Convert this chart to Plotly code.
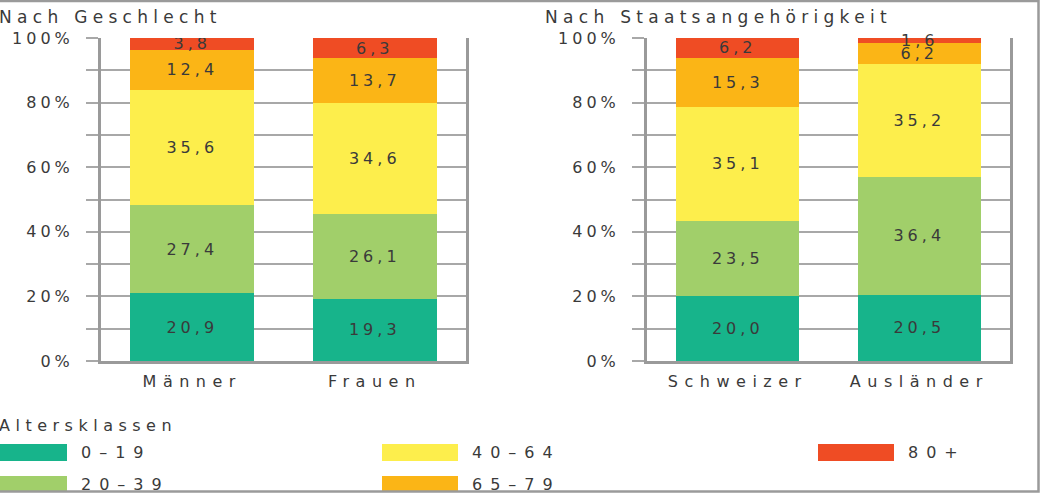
import plotly.graph_objects as go

# ---- data ----
age_classes = ["0–19", "20–39", "40–64", "65–79", "80+"]
colors = ["#17b48b", "#a1cf6a", "#fdee4c", "#fbb516", "#ef4c24"]

sex_categories = ["Männer", "Frauen"]
sex_values = {
    "0–19": [20.9, 19.3],
    "20–39": [27.4, 26.1],
    "40–64": [35.6, 34.6],
    "65–79": [12.4, 13.7],
    "80+": [3.8, 6.3],
}

nat_categories = ["Schweizer", "Ausländer"]
nat_values = {
    "0–19": [20.0, 20.5],
    "20–39": [23.5, 36.4],
    "40–64": [35.1, 35.2],
    "65–79": [15.3, 6.2],
    "80+": [6.2, 1.6],
}

y_tickvals = [0, 10, 20, 30, 40, 50, 60, 70, 80, 90, 100]
y_ticktext = ["0%", "", "20%", "", "40%", "", "60%", "", "80%", "", "100%"]

panel_titles = ["Nach Geschlecht", "Nach Staatsangehörigkeit"]
legend_title = "Altersklassen"

# ---- layout constants ----
W, H = 1041, 495
FONT = "DejaVu Sans"
TXT = "#3a3a3a"
GRID = "#a8a8a8"
SMALL = 3.0  # segments thinner than this get their label as an unclipped annotation


def wide(s, sp=5):
    return f'<span style="letter-spacing:{sp}px">{s}</span>'


def fmt(v):
    return f"{v:.1f}".replace(".", ",")


def px_x(x):
    return x / W


def px_y(y):
    return 1 - y / H


fig = go.Figure()
annotations = []
shapes = []

for cats, vals, xa, ya in [(sex_categories, sex_values, "x", "y"),
                           (nat_categories, nat_values, "x2", "y2")]:
    cum = [0.0] * len(cats)
    for i, ac in enumerate(age_classes):
        v = vals[ac]
        texts = [wide(fmt(t), 4) if t >= SMALL else "" for t in v]
        fig.add_trace(go.Bar(
            x=cats, y=v, name=ac, text=texts, texttemplate="%{text}",
            marker=dict(color=colors[i], line=dict(width=0)),
            textposition="inside", insidetextanchor="middle",
            constraintext="none", textangle=0,
            textfont=dict(family=FONT, size=16, color=TXT),
            xaxis=xa, yaxis=ya, showlegend=False,
        ))
        for k, t in enumerate(v):
            if t < SMALL:
                annotations.append(dict(
                    text=wide(fmt(t), 4), xref=xa, yref=ya, x=cats[k],
                    y=cum[k] + t / 2, showarrow=False, xanchor="center",
                    yanchor="middle", font=dict(family=FONT, size=16, color=TXT),
                ))
            cum[k] += t

y_dom = [px_y(361), px_y(38)]

xaxis_common = dict(
    showline=True, linecolor="#9a9a9a", linewidth=3, mirror=False,
    showgrid=False, ticks="", tickfont=dict(family=FONT, size=16, color=TXT),
    ticklabelstandoff=4, fixedrange=True, automargin=False,
)
yaxis_common = dict(
    range=[0, 100], tickvals=y_tickvals, ticktext=[wide(t, 4) for t in y_ticktext],
    showline=True, linecolor="#9a9a9a", linewidth=3, mirror=True,
    showgrid=True, gridcolor=GRID, gridwidth=1.5,
    ticks="outside", ticklen=12, tickcolor=GRID, tickwidth=1.5,
    tickfont=dict(family=FONT, size=16, color=TXT),
    ticklabelstandoff=9, zeroline=False, fixedrange=True, automargin=False,
)

fig.update_layout(
    width=W, height=H,
    margin=dict(l=0, r=0, t=0, b=0, autoexpand=False),
    paper_bgcolor="white", plot_bgcolor="white",
    barmode="stack", bargap=0.32,
    separators=",.",
    xaxis=dict(domain=[px_x(101), px_x(466)], anchor="y",
               tickvals=sex_categories, ticktext=[wide(c, 6.5) for c in sex_categories],
               **xaxis_common),
    yaxis=dict(domain=y_dom, anchor="x", **yaxis_common),
    xaxis2=dict(domain=[px_x(647), px_x(1010)], anchor="y2",
                tickvals=nat_categories, ticktext=[wide(c, 6.5) for c in nat_categories],
                **xaxis_common),
    yaxis2=dict(domain=y_dom, anchor="x2", **yaxis_common),
    showlegend=False,
)

# panel titles
for title, x0 in zip(panel_titles, [-3, 543]):
    annotations.append(dict(
        text=wide(title, 5.3), xref="paper", yref="paper", x=px_x(x0), y=px_y(17),
        xanchor="left", yanchor="middle", showarrow=False,
        font=dict(family=FONT, size=17, color=TXT),
    ))

# legend title
annotations.append(dict(
    text=wide(legend_title, 5.5), xref="paper", yref="paper", x=px_x(-3), y=px_y(425),
    xanchor="left", yanchor="middle", showarrow=False,
    font=dict(family=FONT, size=16, color=TXT),
))

# legend entries (column layout like the original)
leg_pos = [(0, 67, 0), (0, 67, 1), (382, 458, 0), (382, 458, 1), (818, 894, 0)]
row_y = [(444, 461), (476, 492)]
for ac, col, (sx0, sx1, row) in zip(age_classes, colors, leg_pos):
    ry0, ry1 = row_y[row]
    shapes.append(dict(
        type="rect", xref="paper", yref="paper",
        x0=px_x(sx0), x1=px_x(sx1), y0=px_y(ry1), y1=px_y(ry0),
        fillcolor=col, line=dict(width=0), layer="above",
    ))
    annotations.append(dict(
        text=wide(ac, 8), xref="paper", yref="paper", x=px_x(sx1 + 12),
        y=px_y((ry0 + ry1) / 2), xanchor="left", yanchor="middle",
        showarrow=False, font=dict(family=FONT, size=16, color=TXT),
    ))

# outer frame
shapes.append(dict(
    type="rect", xref="paper", yref="paper",
    x0=px_x(-5), x1=px_x(1038.5), y0=px_y(491.5), y1=px_y(1),
    line=dict(color="#9a9a9a", width=2.5), fillcolor="rgba(0,0,0,0)",
    layer="above",
))

fig.update_layout(annotations=annotations, shapes=shapes)

fig.write_html("out.html")
